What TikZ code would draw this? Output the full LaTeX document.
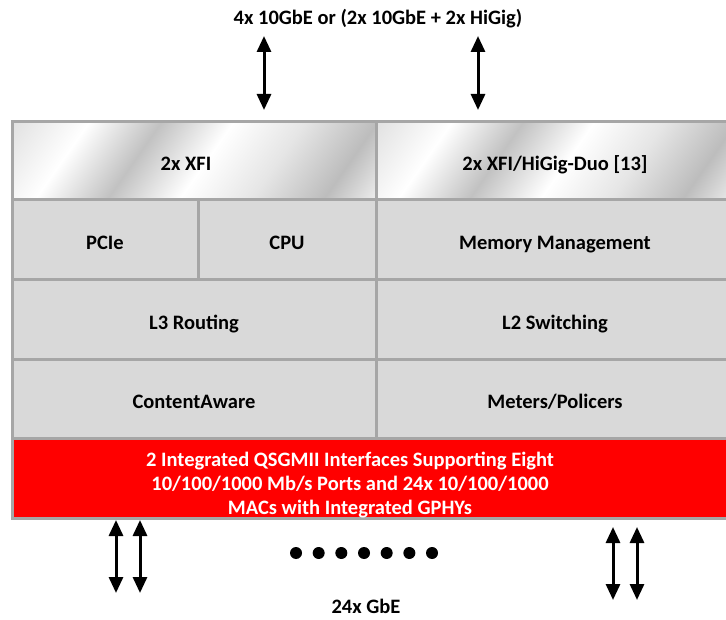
\documentclass[tikz,border=0pt]{standalone}
\usepackage{fontspec}
\setmainfont{Carlito}
\usetikzlibrary{arrows.meta}
\definecolor{cellgray}{HTML}{D9D9D9}
\definecolor{bordergray}{HTML}{A6A6A6}
\definecolor{redbar}{HTML}{FF0000}
\pgfdeclarehorizontalshading{metal}{100bp}{color(0bp)=(black!25); color(15bp)=(black!12); color(28bp)=(white); color(40bp)=(black!24); color(52bp)=(white); color(64bp)=(black!10); color(76bp)=(black!26); color(88bp)=(white); color(100bp)=(black!12)}
\tikzset{
  cell/.style={draw=bordergray, line width=3pt, fill=cellgray, inner sep=0pt, font=\bfseries\fontsize{20.5}{24}\selectfont, text=black, text height=22pt, text depth=2pt},
  metalcell/.style={cell, shading=metal, shading angle=-35},
  redcell/.style={draw=bordergray, line width=3pt, fill=redbar, inner sep=0pt},
  redtext/.style={align=center, text=white, font=\bfseries\fontsize{20.5}{24.3}\selectfont},
  dbl/.style={line width=3pt, {Triangle[width=14pt,length=16pt]}-{Triangle[width=14pt,length=16pt]}},
  lbl/.style={font=\bfseries\fontsize{20.5}{24}\selectfont},
  dotnode/.style={circle, fill=black, inner sep=0pt, minimum size=12pt}
}
\begin{document}
\begin{tikzpicture}[x=1pt,y=-1pt]
\useasboundingbox (0,0) rectangle (726,620);
\fill[white] (0,0) rectangle (726,620);
\clip (0,0) rectangle (726,620);
% top row
\node[metalcell, minimum width=364pt, minimum height=78pt] (xfi) at (194,161) {};
\node[cell, draw=none, fill=none] (xfilbl) at (186,161) {2x XFI};
\node[metalcell, minimum width=358pt, minimum height=78pt] (higig) at (555,161) {};
\node[cell, draw=none, fill=none] (higiglbl) at (555,161) {2x XFI/HiGig-Duo [13]};
% second row
\node[cell, minimum width=186pt, minimum height=80pt] (pcie) at (105,240) {PCIe};
\node[cell, minimum width=178pt, minimum height=80pt] (cpu) at (287,240) {CPU};
\node[cell, minimum width=358pt, minimum height=80pt] (mem) at (555,240) {Memory Management};
% third row
\node[cell, minimum width=364pt, minimum height=80pt] (l3) at (194,320) {L3 Routing};
\node[cell, minimum width=358pt, minimum height=80pt] (l2) at (555,320) {L2 Switching};
% fourth row
\node[cell, minimum width=364pt, minimum height=78pt] (ca) at (194,399) {ContentAware};
\node[cell, minimum width=358pt, minimum height=78pt] (mp) at (555,399) {Meters/Policers};
% red bar
\node[redcell, minimum width=722pt, minimum height=80pt] (red) at (373,478) {};
\node[redtext] (redlbl) at (350,485) {2 Integrated QSGMII Interfaces Supporting Eight\\10/100/1000 Mb/s Ports and 24x 10/100/1000\\MACs with Integrated GPHYs};
% top label and arrows
\node[lbl] (toplbl) at (378,19) {4x 10GbE or (2x 10GbE + 2x HiGig)};
\coordinate (ta1) at (264,36); \coordinate (tb1) at (264,110);
\coordinate (ta2) at (478,36); \coordinate (tb2) at (478,110);
\draw[dbl] (ta1) -- (tb1);
\draw[dbl] (ta2) -- (tb2);
% bottom arrows
\coordinate (ba1) at (116,520); \coordinate (bb1) at (116,593);
\coordinate (ba2) at (140,520); \coordinate (bb2) at (140,593);
\coordinate (ba3) at (613,527); \coordinate (bb3) at (613,600);
\coordinate (ba4) at (637,527); \coordinate (bb4) at (637,600);
\draw[dbl] (ba1) -- (bb1);
\draw[dbl] (ba2) -- (bb2);
\draw[dbl] (ba3) -- (bb3);
\draw[dbl] (ba4) -- (bb4);
% dots
\foreach \i in {0,...,6} {
  \node[dotnode] (d\i) at (296+22.67*\i,553) {};
}
\node[lbl, inner ysep=0pt, text height=14pt, text depth=4pt] (botlbl) at (366,608) {24x GbE};
\end{tikzpicture}
\end{document}
